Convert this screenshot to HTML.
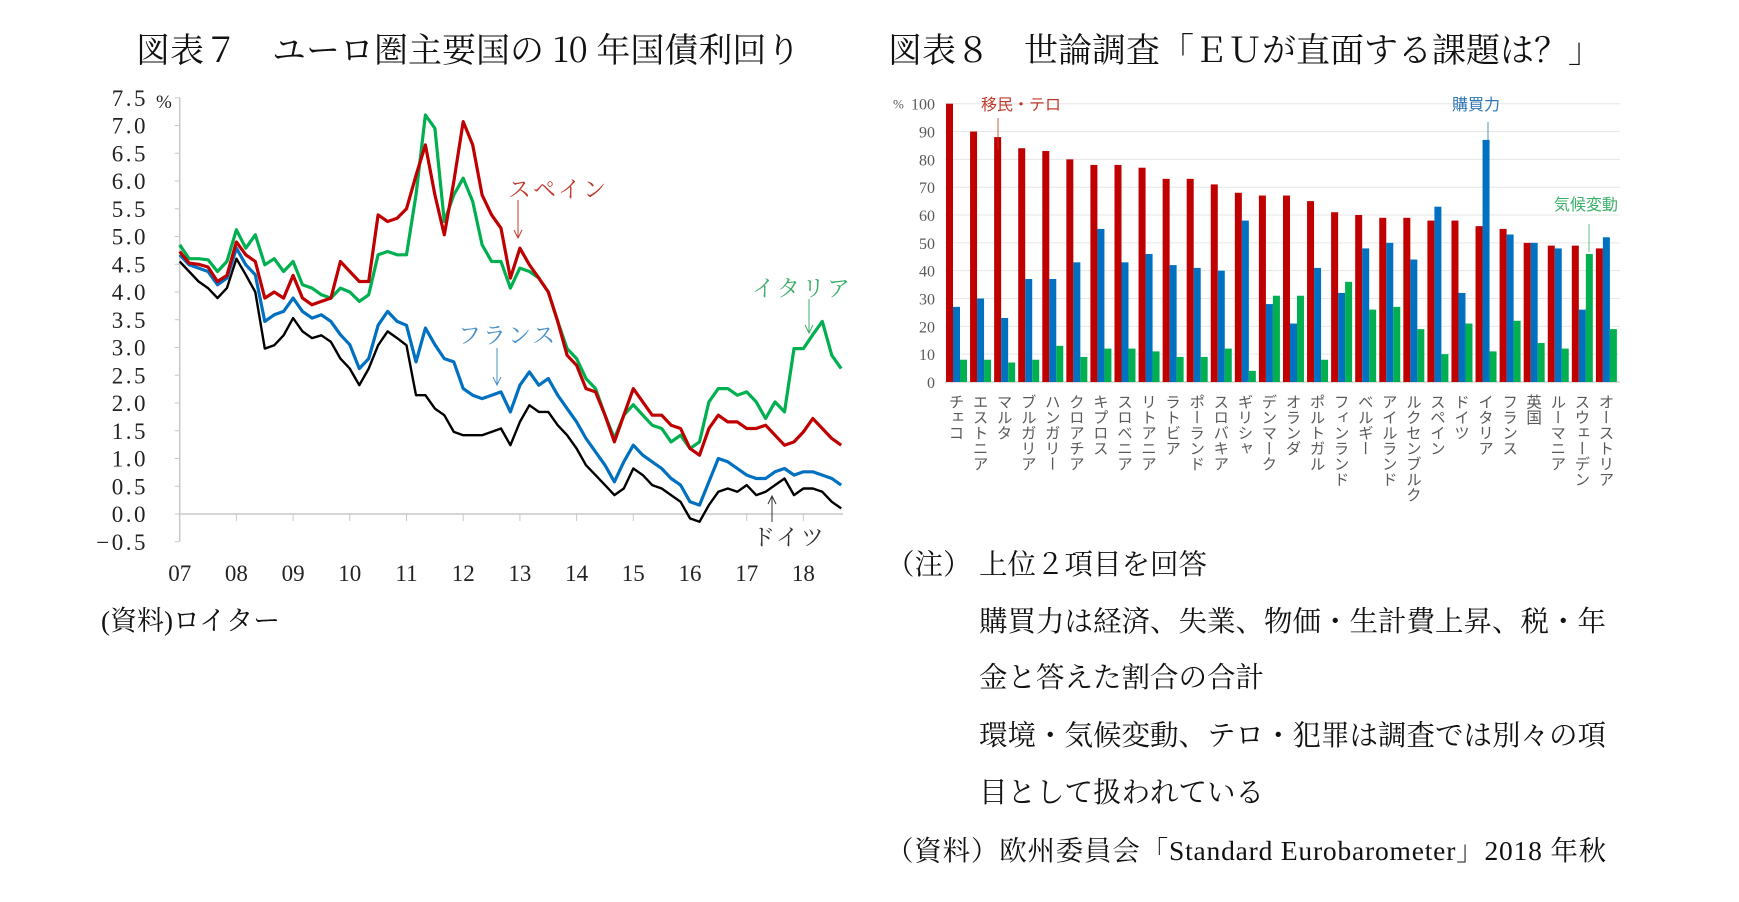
<!DOCTYPE html>
<html><head><meta charset="utf-8">
<style>
html,body{margin:0;padding:0;background:#fff;}
svg{display:block;}
text{font-family:"Liberation Serif","Noto Serif CJK SC",serif;}
</style></head>
<body>
<svg id="root" width="1739" height="902" viewBox="0 0 1739 902" xmlns="http://www.w3.org/2000/svg">
<text x="136" y="62" font-size="34" fill="#111" style='font-family:"Noto Serif CJK SC","Liberation Serif",serif;'>図表７　ユーロ圏主要国の 10 年国債利回り</text>
<text x="888" y="62" font-size="34" fill="#111" style='font-family:"Noto Serif CJK SC","Liberation Serif",serif;'>図表８　世論調査「ＥＵが直面する課題は？」</text>
<g id="line-chart"></g>
<g id="bar-chart"></g>
<text x="101" y="630" font-size="27" fill="#111">(資料)ロイター</text>
<g font-size="28.5" fill="#111">
<text x="886" y="574">（注）</text>
<text x="979" y="574">上位２項目を回答</text>
<text x="979" y="631">購買力は経済、失業、物価・生計費上昇、税・年</text>
<text x="979" y="687">金と答えた割合の合計</text>
<text x="979" y="745">環境・気候変動、テロ・犯罪は調査では別々の項</text>
<text x="979" y="802">目として扱われている</text>
<text x="886" y="860" font-size="27.5" letter-spacing="0.8">（資料）欧州委員会「Standard Eurobarometer」2018 年秋</text>
</g>
</svg>
<script>
// ---------- Line chart data (bimonthly samples, from start of 07) ----------
const yearLabels = ["07","08","09","10","11","12","13","14","15","16","17","18"];
const yTicks = [7.5,7.0,6.5,6.0,5.5,5.0,4.5,4.0,3.5,3.0,2.5,2.0,1.5,1.0,0.5,0.0,-0.5];
const italy = [4.85,4.6,4.6,4.58,4.37,4.55,5.12,4.79,5.03,4.49,4.6,4.37,4.55,4.13,4.07,3.95,3.89,4.07,4.0,3.83,3.95,4.67,4.73,4.67,4.67,5.75,7.19,6.95,5.27,5.75,6.05,5.63,4.85,4.55,4.55,4.07,4.43,4.37,4.25,4.0,3.47,2.98,2.8,2.44,2.26,1.78,1.36,1.78,1.97,1.78,1.6,1.54,1.3,1.42,1.18,1.3,2.02,2.26,2.26,2.14,2.2,2.02,1.72,2.02,1.84,2.98,2.98,3.23,3.47,2.86,2.62];
const spain = [4.73,4.52,4.5,4.45,4.19,4.3,4.9,4.67,4.55,3.89,4.0,3.89,4.3,3.89,3.77,3.83,3.89,4.55,4.37,4.19,4.19,5.39,5.27,5.33,5.5,6.1,6.65,5.75,5.03,5.99,7.07,6.65,5.75,5.39,5.15,4.25,4.79,4.49,4.25,4.0,3.47,2.86,2.68,2.26,2.2,1.78,1.3,1.78,2.26,2.02,1.78,1.78,1.6,1.54,1.18,1.06,1.54,1.78,1.66,1.66,1.54,1.54,1.6,1.42,1.24,1.3,1.48,1.72,1.54,1.36,1.24];
const france = [4.67,4.49,4.43,4.37,4.13,4.25,4.79,4.49,4.31,3.47,3.59,3.65,3.89,3.65,3.53,3.59,3.47,3.23,3.05,2.62,2.8,3.4,3.65,3.47,3.4,2.74,3.35,3.05,2.8,2.74,2.26,2.14,2.08,2.14,2.2,1.84,2.32,2.56,2.32,2.44,2.14,1.9,1.66,1.36,1.12,0.88,0.58,0.94,1.24,1.06,0.94,0.82,0.64,0.52,0.22,0.16,0.58,1.0,0.94,0.82,0.7,0.64,0.64,0.76,0.82,0.7,0.76,0.76,0.7,0.64,0.52];
const germany = [4.55,4.37,4.19,4.07,3.89,4.07,4.6,4.31,4.0,2.98,3.04,3.22,3.53,3.29,3.17,3.22,3.1,2.8,2.62,2.32,2.62,3.04,3.29,3.17,3.04,2.14,2.14,1.9,1.78,1.48,1.42,1.42,1.42,1.48,1.54,1.24,1.66,1.96,1.84,1.84,1.6,1.42,1.18,0.88,0.7,0.52,0.34,0.46,0.82,0.7,0.52,0.46,0.34,0.22,-0.08,-0.14,0.16,0.4,0.46,0.4,0.52,0.34,0.4,0.52,0.64,0.34,0.46,0.46,0.4,0.22,0.1];

// ---------- Bar chart data ----------
const countries = ["チェコ","エストニア","マルタ","ブルガリア","ハンガリー","クロアチア","キプロス","スロベニア","リトアニア","ラトビア","ポーランド","スロバキア","ギリシャ","デンマーク","オランダ","ポルトガル","フィンランド","ベルギー","アイルランド","ルクセンブルク","スペイン","ドイツ","イタリア","フランス","英国","ルーマニア","スウェーデン","オーストリア"];
const migrationTerror = [100,90,88,84,83,80,78,78,77,73,73,71,68,67,67,65,61,60,59,59,58,58,56,55,50,49,49,48];
const purchasingPower = [27,30,23,37,37,43,55,43,46,42,41,40,58,28,21,41,32,48,50,44,63,32,87,53,50,48,26,52];
const climateChange = [8,8,7,8,13,9,12,12,11,9,9,12,4,31,31,8,36,26,27,19,10,21,11,22,14,12,46,19];
const barTicks = [0,10,20,30,40,50,60,70,80,90,100];

const NS = "http://www.w3.org/2000/svg";
function mk(tag, attrs, parent, txt){
  const e = document.createElementNS(NS, tag);
  for (const k in attrs) e.setAttribute(k, attrs[k]);
  if (txt !== undefined) e.textContent = txt;
  parent.appendChild(e);
  return e;
}

// ----- line chart -----
(function(){
  const g = document.getElementById('line-chart');
  const x0 = 179.7, yr = 56.7, y0 = 514, vs = 55.5;
  const X = t => x0 + t*yr;
  const Y = v => y0 - v*vs;
  let el = mk('line',{x1:x0,y1:98,x2:x0,y2:Y(-0.5),stroke:'#c8c8c8','stroke-width':1.5},g);
  
  
  el = mk('line',{x1:x0,y1:Y(0),x2:X(11.7),y2:Y(0),stroke:'#c8c8c8','stroke-width':1.5},g);
  
  
  yTicks.forEach(v=>{
    mk('line',{x1:x0-5,y1:Y(v),x2:x0,y2:Y(v),stroke:'#c8c8c8','stroke-width':1},g);
    const t = mk('text',{x:148,y:Y(v)+8,'font-size':23,'text-anchor':'end',fill:'#222','letter-spacing':'2.5'},g,(v<0?'−':'')+Math.abs(v).toFixed(1));
    
    
  });
  el = mk('text',{x:156,y:Y(7.5)+10,'font-size':19,fill:'#222'},g,'%');
  
  
  yearLabels.forEach((l,i)=>{
    if(i>0) mk('line',{x1:X(i),y1:Y(0),x2:X(i),y2:Y(0)+7,stroke:'#c8c8c8','stroke-width':1},g);
    const t = mk('text',{x:X(i),y:581,'font-size':23,'text-anchor':'middle',fill:'#222'},g,l);
    
    
  });
  const series = [[italy,'#00b050','italy-line',3.2],[spain,'#c00000','spain-line',3.2],[france,'#0070c0','france-line',3.2],[germany,'#000000','germany-line',2.4]];
  [series[3],series[2],series[0],series[1]].forEach(s=>{
    const d = s[0].map((v,i)=>(i?'L':'M')+X(i/6).toFixed(1)+' '+Y(v).toFixed(1)).join(' ');
    const p = mk('path',{d:d,fill:'none',stroke:s[1],'stroke-width':s[3],'stroke-linejoin':'round'},g);
    
    
  });
  const ann = [
    ['スペイン',508,197,'#c0392b',518,200,518,238,'spain-label'],
    ['フランス',458,343,'#4a90c8',497,348,497,385,'france-label'],
    ['イタリア',752,296,'#3cb06a',809,299,809,333,'italy-label'],
    ['ドイツ',752,545,'#333333',772,522,772,496,'germany-label']
  ];
  ann.forEach(a=>{
    const t = mk('text',{x:a[1],y:a[2],'font-size':23,fill:a[3],'letter-spacing':'2'},g,a[0]);
    
    
    const l = mk('line',{x1:a[4],y1:a[5],x2:a[6],y2:a[7],stroke:a[3],'stroke-width':1},g);
    
    
    const dir = a[7]>a[5]?-1:1;
    mk('path',{d:`M${a[6]-4} ${a[7]+dir*8} L${a[6]} ${a[7]} L${a[6]+4} ${a[7]+dir*8}`,fill:'none',stroke:a[3],'stroke-width':1},g);
  });
})();

// ----- bar chart -----
(function(){
  const g = document.getElementById('bar-chart');
  const y0 = 382, vs = 2.783, gx0 = 946, gs = 24.07, bw = 7;
  const Y = v => y0 - v*vs;
  barTicks.forEach(v=>{
    const l = mk('line',{x1:945,y1:Y(v),x2:1620,y2:Y(v),stroke:v===0?'#bfbfbf':'#e6e6e6','stroke-width':1},g);
    
    
    const t = mk('text',{x:935,y:Y(v)+6,'font-size':16,'text-anchor':'end',fill:'#595959'},g,String(v));
    
    
  });
  let u = mk('text',{x:893,y:Y(100)+5,'font-size':13,fill:'#595959'},g,'%');
  
  
  countries.forEach((c,i)=>{
    const gx = gx0 + i*gs;
    [[migrationTerror,'#c00000','bar-migration-terror'],[purchasingPower,'#0070c0','bar-purchasing-power'],[climateChange,'#00b050','bar-climate-change']].forEach((s,j)=>{
      const v = s[0][i];
      const r = mk('rect',{x:gx+j*bw,y:Y(v),width:bw,height:v*vs,fill:s[1]},g);
      
      
    });
    const t = mk('text',{x:gx+10.5,y:394,'font-size':15.5,fill:'#595959',style:'font-family:"Noto Sans CJK JP","Noto Sans CJK SC",sans-serif;writing-mode:vertical-rl;'},g,c);
    
    
  });
  const labs = [['移民・テロ',981,110,'#c0392b',998,118,998,150,'migration-terror-label'],
                ['購買力',1452,110,'#2e75b6',1488,122,1488,140,'purchasing-power-label'],
                ['気候変動',1554,210,'#3cb06a',1589,224,1589,252,'climate-change-label']];
  labs.forEach(a=>{
    const t = mk('text',{x:a[1],y:a[2],'font-size':16,fill:a[3],style:'font-family:"Noto Sans CJK JP","Noto Sans CJK SC",sans-serif;'},g,a[0]);
    
    
    const l = mk('line',{x1:a[4],y1:a[5],x2:a[6],y2:a[7],stroke:a[3],'stroke-width':0.8},g);
    
    
  });
})();
</script>
</body></html>
